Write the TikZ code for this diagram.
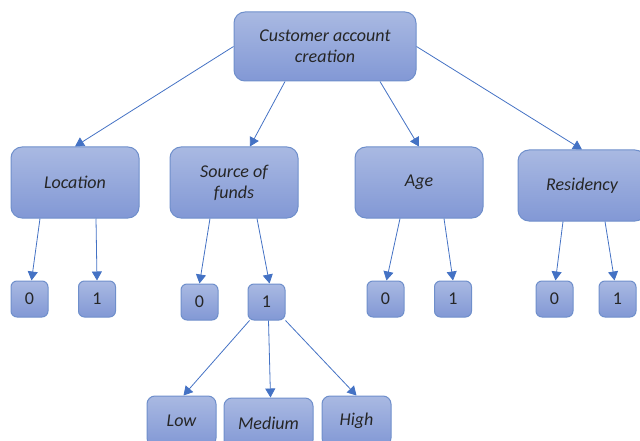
\documentclass[tikz,border=0pt]{standalone}
\usepackage{fontspec}
\setmainfont{Carlito}
\usetikzlibrary{arrows.meta}

\definecolor{boxtop}{HTML}{A9B9E2}
\definecolor{boxbot}{HTML}{8298D5}
\definecolor{boxline}{HTML}{6F8FCB}
\definecolor{linkblue}{HTML}{4472C4}

\tikzset{
    box/.style={draw=boxline, line width=1pt, top color=boxtop, bottom color=boxbot,
        rounded corners=11pt, align=center, text=black!85,
        font=\fontsize{18}{21}\selectfont\itshape, inner sep=0pt},
    bigbox/.style={box, minimum width=128pt, minimum height=71pt},
    leaf/.style={box, rounded corners=6pt, minimum width=37pt, minimum height=36pt,
        font=\fontsize{18}{21}\selectfont},
    link/.style={every edge/.style={draw=linkblue, line width=0.8pt,
        -{Triangle[length=9pt,width=10pt]}}}
}

\begin{document}
\begin{tikzpicture}[x=1pt,y=-1pt]
    \useasboundingbox (0,0) rectangle (640,441);

    \node[box, minimum width=182pt, minimum height=69pt] (1) at (325,46.5) {Customer account\\creation};
    \node[bigbox] (2) at (75,182.5) {Location};
    \node[bigbox] (3) at (234,182.5) {Source of\\funds};
    \node[bigbox] (4) at (419,182.5) {Age};
    \node[bigbox] (5) at (582,185.5) {Residency};

    \node[leaf] (6) at (29.5,299) {0};
    \node[leaf] (7) at (97,299) {1};
    \node[leaf] (8) at (199.5,302) {0};
    \node[leaf] (9) at (266.5,302) {1};
    \node[leaf] (10) at (385.5,299) {0};
    \node[leaf] (11) at (453,299) {1};
    \node[leaf] (12) at (554.5,299) {0};
    \node[leaf] (13) at (617.5,299) {1};

    \node[box, rounded corners=8pt, minimum width=69pt, minimum height=50pt] (14) at (181.5,421) {Low};
    \node[box, rounded corners=8pt, minimum width=89pt, minimum height=50pt] (15) at (268.5,423) {Medium};
    \node[box, rounded corners=8pt, minimum width=69pt, minimum height=50pt] (16) at (356.5,421) {High};

    \path[link]
    (1.west) edge (2.north)
    ([xshift=-40pt]1.south) edge ([xshift=16pt]3.north)
    ([xshift=55pt]1.south) edge (4.north)
    (1.east) edge (5.north);

    \path[link]
    ([xshift=-35pt]2.south) edge ([xshift=2pt]6.north)
    ([xshift=21pt]2.south) edge (7.north)
    ([xshift=-24pt]3.south) edge (8.north)
    ([xshift=23pt]3.south) edge ([xshift=3pt]9.north)
    ([xshift=-19pt]4.south) edge ([xshift=1pt]10.north)
    ([xshift=25pt]4.south) edge (11.north)
    ([xshift=-19pt]5.south) edge ([xshift=1pt]12.north)
    ([xshift=23pt]5.south) edge ([xshift=-3pt]13.north);

    \path[link]
    ([xshift=2pt]9.south west) edge ([xshift=2pt]14.north)
    ([xshift=2pt]9.south) edge ([xshift=2pt]15.north)
    (9.south east) edge (16.north);
\end{tikzpicture}
\end{document}
